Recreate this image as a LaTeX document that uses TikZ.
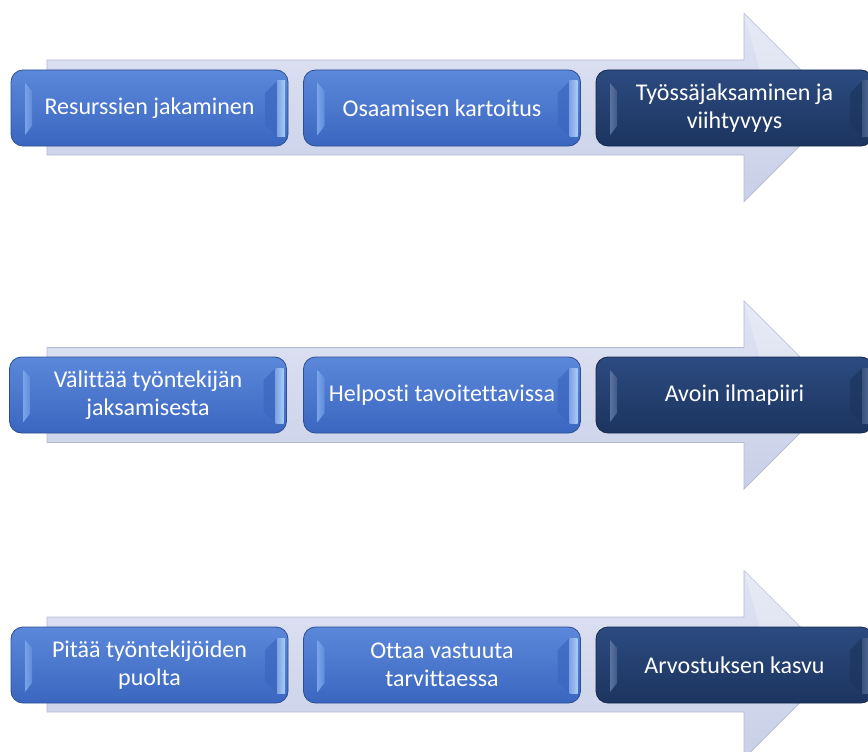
\documentclass[tikz,border=0pt]{standalone}
\usepackage{fontspec}
\setmainfont{Carlito}[Ligatures=NoCommon]
\usetikzlibrary{calc}

\definecolor{arrowfillA}{HTML}{DFE3F3}
\definecolor{arrowfillB}{HTML}{C9D0E7}
\definecolor{arrowline}{HTML}{B2BAD4}
\definecolor{blueA}{HTML}{5C88DA}
\definecolor{blueB}{HTML}{4676CF}
\definecolor{blueC}{HTML}{3A66C0}
\definecolor{blueline}{HTML}{2C4F93}
\definecolor{blueL}{HTML}{78A3EA}
\definecolor{blueR}{HTML}{3B67C0}
\definecolor{blueH}{HTML}{A9CCF8}
\definecolor{navyA}{HTML}{2C4B80}
\definecolor{navyB}{HTML}{223F70}
\definecolor{navyC}{HTML}{1C345F}
\definecolor{navyline}{HTML}{15294C}
\definecolor{navyL}{HTML}{5A72A0}
\definecolor{navyR}{HTML}{1D355F}
\definecolor{navyH}{HTML}{4F6894}

\tikzset{
  arrowbody/.style={draw=arrowline, line width=0.7pt, top color=arrowfillA, bottom color=arrowfillB},
  stepbox/.style={rounded corners=12pt, minimum width=277pt, minimum height=76pt,
    inner sep=0pt, outer sep=0pt, align=center, text=white,
    font=\fontsize{24}{28}\selectfont},
  bluebox/.style={stepbox, draw=blueline, line width=0.8pt,
    top color=blueA, middle color=blueB, bottom color=blueC},
  navybox/.style={stepbox, draw=navyline, line width=0.8pt,
    top color=navyA, middle color=navyB, bottom color=navyC},
}

% large background arrow, centred on the given height
\newcommand\flowarrow[1]{%
  \draw[arrowbody] (47,#1-47.5) -- (744,#1-47.5) -- (744,#1-94) -- (838,#1)
    -- (744,#1+94) -- (744,#1+47.5) -- (47,#1+47.5) -- cycle;
  \fill[white, opacity=0.25] (744,#1-94) -- (838,#1) -- (770,#1) -- cycle;
}

% bevelled edges of a button: node name, left face, right face, highlight
\newcommand\bevel[4]{%
  \shade[left color=#2, right color=#2!60!#3] ($(#1.north west)+(14,13)$) -- ($(#1.north west)+(21,21)$)
    -- ($(#1.south west)+(21,-20)$) -- ($(#1.south west)+(14,-11)$) -- cycle;
  \fill[#3, opacity=0.7] ($(#1.north east)+(-11,11)$) -- ($(#1.north east)+(-23,23)$)
    -- ($(#1.south east)+(-23,-21)$) -- ($(#1.south east)+(-11,-10)$) -- cycle;
  \shade[left color=#3!40!#4, right color=#4] ($(#1.north east)+(-11,11)$) -- ($(#1.north east)+(-3,11)$)
    -- ($(#1.south east)+(-3,-10)$) -- ($(#1.south east)+(-11,-10)$) -- cycle;
}

\begin{document}
\begin{tikzpicture}[x=1pt, y=-1pt]
\useasboundingbox (0,0) rectangle (868,752);
\clip (0,0) rectangle (868,752);

% row 1
\flowarrow{107.5}
\node[bluebox] (a1) at (149.5,108) {Resurssien jakaminen};
\node[bluebox] (a2) at (442,108) {Osaamisen kartoitus};
\node[navybox] (a3) at (734.5,108) {Työssäjaksaminen ja\\viihtyvyys};
\bevel{a1}{blueL}{blueR}{blueH}
\bevel{a2}{blueL}{blueR}{blueH}
\bevel{a3}{navyL}{navyR}{navyH}

% row 2
\flowarrow{395}
\node[bluebox] (b1) at (148,395) {Välittää työntekijän\\jaksamisesta};
\node[bluebox] (b2) at (442,395) {Helposti tavoitettavissa};
\node[navybox] (b3) at (734.5,395) {Avoin ilmapiiri};
\bevel{b1}{blueL}{blueR}{blueH}
\bevel{b2}{blueL}{blueR}{blueH}
\bevel{b3}{navyL}{navyR}{navyH}

% row 3
\flowarrow{664.5}
\node[bluebox] (c1) at (149.5,665) {Pitää työntekijöiden\\puolta};
\node[bluebox] (c2) at (442,665) {Ottaa vastuuta\\tarvittaessa};
\node[navybox] (c3) at (734.5,665) {Arvostuksen kasvu};
\bevel{c1}{blueL}{blueR}{blueH}
\bevel{c2}{blueL}{blueR}{blueH}
\bevel{c3}{navyL}{navyR}{navyH}
\end{tikzpicture}
\end{document}
